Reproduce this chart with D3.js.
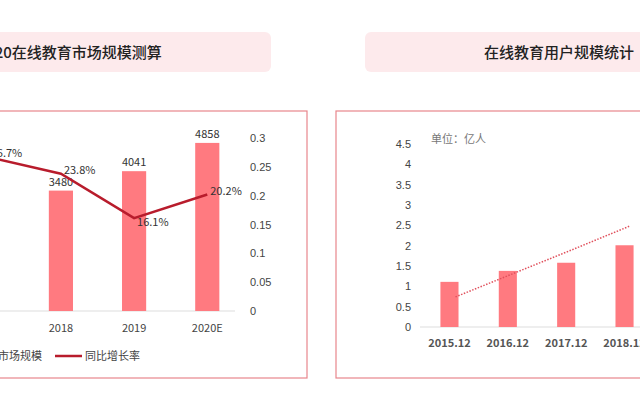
<!DOCTYPE html>
<html>
<head>
<meta charset="utf-8">
<script src="https://cdn.jsdelivr.net/npm/d3@7"></script>
<style>
  body { margin: 0; background: #fff; }
  text { font-family: "Noto Sans CJK SC", "Liberation Sans", sans-serif; }
</style>
</head>
<body>
<svg id="chart" width="640" height="420"></svg>
<script>
// left chart: market size (bars) and yoy growth (line)
var marketYears = ["2017", "2018", "2019", "2020E"];
var marketSize = [2810, 3480, 4041, 4858];
var marketGrowth = [0.267, 0.238, 0.161, 0.202];
var growthLabels = ["26.7%", "23.8%", "16.1%", "20.2%"];
var growthTicks = [0, 0.05, 0.1, 0.15, 0.2, 0.25, 0.3];

// right chart: user scale (bars) and dotted trend line
var userMonths = ["2015.12", "2016.12", "2017.12", "2018.12"];
var userCount = [1.11, 1.38, 1.58, 2.01];
var userTrend = [0.74, 1.32, 1.90, 2.49];
var userTicks = [0, 0.5, 1, 1.5, 2, 2.5, 3, 3.5, 4, 4.5];

var barColor = "#ff7a80";
var lineColor = "#b81c2c";
var boxColor = "#e8868c";

var svg = d3.select("#chart");

// title boxes
svg.append("rect").attr("x", -20).attr("y", 32).attr("width", 291).attr("height", 40)
	.attr("rx", 6).attr("fill", "#fdeaec");
svg.append("text").attr("x", -62).attr("y", 58).attr("font-size", 15).attr("font-weight", 500).attr("fill", "#222")
	.text("2016-2020在线教育市场规模测算");
svg.append("rect").attr("x", 365).attr("y", 32).attr("width", 300).attr("height", 40)
	.attr("rx", 6).attr("fill", "#fdeaec");
svg.append("text").attr("x", 484).attr("y", 58).attr("font-size", 15).attr("font-weight", 500).attr("fill", "#222")
	.text("在线教育用户规模统计");

// panel frames
svg.append("rect").attr("x", -10).attr("y", 111).attr("width", 317).attr("height", 267)
	.attr("fill", "none").attr("stroke", boxColor).attr("stroke-width", 1.2);
svg.append("rect").attr("x", 336).attr("y", 111).attr("width", 320).attr("height", 267)
	.attr("fill", "none").attr("stroke", boxColor).attr("stroke-width", 1.2);

// ### left chart
var x1 = d3.scaleBand().domain(marketYears).range([-48.5, 243.5]).paddingInner(0.67).paddingOuter(0.33);
var y1 = d3.scaleLinear().domain([0, 5000]).range([311, 138]);
var y1r = d3.scaleLinear().domain([0, 0.3]).range([311, 138]);
var g1 = svg.append("g");

g1.append("line").attr("x1", -10).attr("x2", 235).attr("y1", 311).attr("y2", 311)
	.attr("stroke", "#ddd");

g1.selectAll(".bar").data(marketSize).enter().append("rect")
	.attr("x", function(d, i){ return x1(marketYears[i]); })
	.attr("width", x1.bandwidth())
	.attr("y", function(d){ return y1(d); })
	.attr("height", function(d){ return 311 - y1(d); })
	.attr("fill", barColor);

g1.selectAll(".barlab").data(marketSize).enter().append("text")
	.attr("x", function(d, i){ return x1(marketYears[i]) + x1.bandwidth() / 2; })
	.attr("y", function(d){ return y1(d) - 5; })
	.attr("text-anchor", "middle").attr("font-size", 11).attr("fill", "#333")
	.text(function(d){ return d; });

var line1 = d3.line()
	.x(function(d, i){ return x1(marketYears[i]) + x1.bandwidth() / 2; })
	.y(function(d){ return y1r(d); });
g1.append("path").datum(marketGrowth).attr("d", line1)
	.attr("fill", "none").attr("stroke", lineColor).attr("stroke-width", 2.5);

g1.selectAll(".linelab").data(marketGrowth).enter().append("text")
	.attr("x", function(d, i){ return x1(marketYears[i]) + x1.bandwidth() / 2 + 3; })
	.attr("y", function(d, i){ return y1r(d) + (i == 2 ? 8 : 0); })
	.attr("font-size", 11).attr("fill", "#333")
	.text(function(d, i){ return growthLabels[i]; });

g1.selectAll(".xlab").data(marketYears).enter().append("text")
	.attr("x", function(d){ return x1(d) + x1.bandwidth() / 2; })
	.attr("y", 332).attr("text-anchor", "middle").attr("font-size", 11).attr("fill", "#444")
	.text(function(d){ return d; });

var axisR = d3.axisRight(y1r).tickValues(growthTicks).tickSize(0).tickPadding(0)
	.tickFormat(function(d){ return String(d); });
g1.append("g").attr("transform", "translate(250,0)").call(axisR)
	.call(function(g){ g.select(".domain").remove(); })
	.selectAll("text").attr("font-size", 11).attr("fill", "#444")
	.style("font-family", "'Liberation Sans', sans-serif");

// legend
g1.append("rect").attr("x", -20).attr("y", 351).attr("width", 16).attr("height", 10).attr("fill", barColor);
g1.append("text").attr("x", -2).attr("y", 360).attr("font-size", 11).attr("fill", "#444").text("市场规模");
g1.append("line").attr("x1", 55).attr("x2", 82).attr("y1", 356).attr("y2", 356)
	.attr("stroke", lineColor).attr("stroke-width", 2.5);
g1.append("text").attr("x", 85).attr("y", 360).attr("font-size", 11).attr("fill", "#444").text("同比增长率");

// ### right chart
var x2 = d3.scaleBand().domain(userMonths).range([420, 654]).paddingInner(0.69).paddingOuter(0.35);
var y2 = d3.scaleLinear().domain([0, 4.5]).range([327, 144]);
var g2 = svg.append("g");

g2.append("line").attr("x1", 420).attr("x2", 640).attr("y1", 327).attr("y2", 327).attr("stroke", "#ddd");

g2.selectAll(".bar").data(userCount).enter().append("rect")
	.attr("x", function(d, i){ return x2(userMonths[i]); })
	.attr("width", x2.bandwidth())
	.attr("y", function(d){ return y2(d); })
	.attr("height", function(d){ return 327 - y2(d); })
	.attr("fill", barColor);

var line2 = d3.line()
	.x(function(d, i){ return x2(userMonths[i]) + x2.bandwidth() / 2 + 6; })
	.y(function(d){ return y2(d); });
g2.append("path").datum(userTrend).attr("d", line2)
	.attr("fill", "none").attr("stroke", "#e0505c").attr("stroke-width", 1.5)
	.attr("stroke-dasharray", "1.5,1.5");

var axisL = d3.axisLeft(y2).tickValues(userTicks).tickSize(0).tickPadding(0)
	.tickFormat(function(d){ return String(d); });
g2.append("g").attr("transform", "translate(411,0)").call(axisL)
	.call(function(g){ g.select(".domain").remove(); })
	.selectAll("text").attr("font-size", 11).attr("fill", "#444")
	.style("font-family", "'Liberation Sans', sans-serif");

g2.selectAll(".xlab").data(userMonths).enter().append("text")
	.attr("x", function(d){ return x2(d) + x2.bandwidth() / 2; })
	.attr("y", 347).attr("text-anchor", "middle").attr("font-size", 11)
	.attr("font-weight", "bold").attr("fill", "#555")
	.text(function(d){ return d; });

g2.append("text").attr("x", 431).attr("y", 143).attr("font-size", 11).attr("fill", "#777")
	.text("单位：亿人");
</script>
</body>
</html>
